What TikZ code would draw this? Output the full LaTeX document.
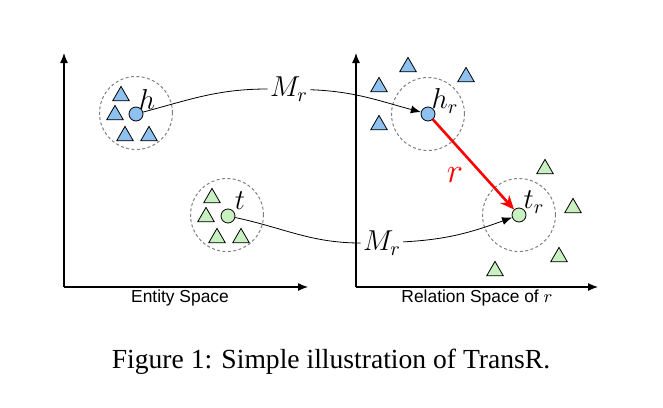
\documentclass[tikz,border=0pt]{standalone}
\usepackage{fontspec}
\setmainfont{Liberation Serif}
\newfontfamily\axisfont{Liberation Sans}
\usepackage{amsmath}
\usetikzlibrary{arrows.meta, positioning, shapes.geometric}
\definecolor{entblue}{RGB}{142, 192, 240}
\definecolor{entgreen}{RGB}{200, 240, 192}
\definecolor{ringgray}{RGB}{128, 128, 128}

\begin{document}
\begin{tikzpicture}[x=0.5pt, y=-0.5pt, >={Latex[length=5pt,width=4pt]},
    tri/.style={draw, regular polygon, regular polygon sides=3, inner sep=0pt, minimum size=9.6pt, line width=0.4pt},
    dot/.style={draw, circle, inner sep=0pt, minimum size=7pt, line width=0.4pt},
    ring/.style={draw=ringgray, dashed, dash pattern=on 1.5pt off 1.2pt, circle, inner sep=0pt, minimum size=36.5pt, line width=0.5pt},
    axis/.style={->, line width=0.6pt},
    lbl/.style={inner sep=0pt, font=\Large},
    maplbl/.style={fill=white, inner sep=1pt, font=\Large},
    spacelbl/.style={font=\axisfont\fontsize{8.7}{10}\selectfont}]
        \useasboundingbox (0,0) rectangle (663,407);
        % axes
        \coordinate (oL) at (64,287);
        \coordinate (yL) at (64,53);
        \coordinate (xL) at (308,287);
        \coordinate (oR) at (356,287);
        \coordinate (yR) at (356,53);
        \coordinate (xR) at (598,287);
        \draw[axis] (oL) -- (yL);
        \draw[axis] (oL) -- (xL);
        \draw[axis] (oR) -- (yR);
        \draw[axis] (oR) -- (xR);
        \node[spacelbl] (entity) at (180,298) {Entity Space};
        \node[spacelbl] (relation) at (477,298) {Relation Space of $r$};
        % entity space
        \node[ring] (hring) at (136,113) {};
        \node[ring] (tring) at (227,215) {};
        \foreach \x/\y in {121/96, 115/115, 125/136, 149/136}
            \node[tri, fill=entblue] at (\x,\y) {};
        \foreach \x/\y in {212/198, 206/217, 217/238, 241/238}
            \node[tri, fill=entgreen] at (\x,\y) {};
        \node[dot, fill=entblue] (h) at (136,114) {};
        \node[dot, fill=entgreen] (t) at (228,216) {};
        \node[lbl] (hlbl) at (147,99) {$h$};
        \node[lbl] (tlbl) at (240,201) {$t$};
        % relation space
        \node[ring] (hrring) at (428,114) {};
        \node[ring] (trring) at (519,215) {};
        \foreach \x/\y in {408/67, 466/77, 379/87, 379/125}
            \node[tri, fill=entblue] at (\x,\y) {};
        \foreach \x/\y in {545/169, 573/208, 559/257, 495/271}
            \node[tri, fill=entgreen] at (\x,\y) {};
        \node[dot, fill=entblue] (hr) at (428,114) {};
        \node[dot, fill=entgreen] (tr) at (519,215) {};
        \node[lbl] (hrlbl) at (445,101) {$h_r$};
        \node[lbl] (trlbl) at (534,202) {$t_r$};
        % projections
        \node[maplbl] (M1) at (289,89) {$M_r$};
        \node[maplbl] (M2) at (382,243) {$M_r$};
        \draw[->, line width=0.4pt] (h) to[out=15, in=180] (M1) to[out=-2, in=165] (hr);
        \draw[->, line width=0.4pt] (t) to[out=-12, in=180] (M2) to[out=3, in=200] (tr);
        % translation
        \draw[->, red, line width=1.3pt, >={Stealth[length=7pt,width=6pt]}] (hr) -- (tr);
        \node[lbl, text=red, font=\LARGE] (rlbl) at (455,175) {$r$};
        % caption
        \node (caption) at (331,362) {\fontsize{13.8}{16}\selectfont Figure 1: Simple illustration of TransR.};
\end{tikzpicture}
\end{document}
